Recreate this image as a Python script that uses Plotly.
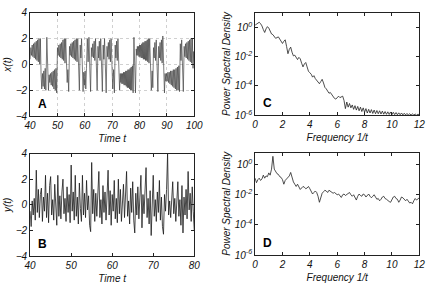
import numpy as np
import plotly.graph_objects as go

# ---------------- Panel A: x(t), turning points ----------------
time_a = [40.0, 40.25, 40.5, 40.75, 41.0, 41.25, 41.5, 41.75, 42.0, 42.25, 42.5, 42.75, 43.0, 43.25, 43.5, 43.75,
          44.0, 44.25, 44.5, 44.75, 45.0, 45.25, 45.5, 45.75, 46.1, 46.45, 46.7, 46.95, 47.2, 47.45, 47.7, 47.95,
          48.2, 48.45, 48.7, 48.95, 49.2, 49.45, 49.7, 50.0, 50.25, 50.5, 50.75, 51.0, 51.25, 51.5, 51.75, 52.0,
          52.25, 52.5, 52.75, 53.0, 53.3, 53.55, 53.8, 54.1, 54.4, 54.65, 54.9, 55.15, 55.4, 55.65, 55.9, 56.15,
          56.4, 56.65, 56.9, 57.15, 57.4, 57.7, 58.0, 58.3, 58.55, 58.8, 59.1, 59.35, 59.6, 59.85, 60.1, 60.35,
          60.6, 60.9, 61.2, 61.5, 61.8, 62.1, 62.4, 62.65, 62.9, 63.15, 63.4, 63.65, 63.9, 64.2, 64.5, 64.8,
          65.05, 65.3, 65.55, 65.8, 66.1, 66.4, 66.7, 66.95, 67.2, 67.5, 67.8, 68.1, 68.35, 68.6, 68.85, 69.1,
          69.35, 69.6, 69.9, 70.2, 70.5, 70.8, 71.1, 71.35, 71.6, 71.85, 72.1, 72.4, 72.7, 72.95, 73.15, 73.35,
          73.55, 73.75, 73.95, 74.15, 74.35, 74.55, 74.75, 74.95, 75.15, 75.35, 75.55, 75.75, 75.95, 76.15, 76.35, 76.55,
          76.75, 76.95, 77.15, 77.4, 77.65, 77.95, 78.25, 78.5, 78.8, 79.0, 79.2, 79.4, 79.6, 79.8, 80.0, 80.2,
          80.4, 80.6, 80.8, 81.0, 81.2, 81.4, 81.6, 81.8, 82.0, 82.2, 82.4, 82.6, 82.8, 83.0, 83.2, 83.45,
          83.7, 84.0, 84.3, 84.6, 84.85, 85.1, 85.35, 85.6, 85.85, 86.1, 86.4, 86.7, 87.0, 87.25, 87.5, 87.75,
          88.0, 88.25, 88.5, 88.8, 89.1, 89.35, 89.6, 89.85, 90.1, 90.35, 90.6, 90.85, 91.1, 91.35, 91.6, 91.85,
          92.1, 92.35, 92.6, 92.85, 93.1, 93.35, 93.6, 93.85, 94.1, 94.35, 94.6, 94.9, 95.15, 95.4, 95.7, 96.0,
          96.3, 96.55, 96.8, 97.05, 97.3, 97.55, 97.8, 98.05, 98.3, 98.55, 98.8, 99.05, 99.3, 99.55, 99.8, 100.0]
x_a = [0.4, 1.3, 0.7, 1.5, 0.6, 1.6, 0.5, 1.7, 0.4, 1.8, 0.3, 1.9, 0.2, 2.0, 0.0, 2.0,
       -0.8, -1.9, -0.7, -1.7, -0.5, -1.9, -0.3, -2.0, 2.1, -0.2, -2.0, -0.8, -1.4, -0.7, -1.6, -0.6,
       -1.7, -0.5, -1.9, -0.4, -2.0, -0.3, -2.2, 1.3, 0.7, 1.5, 0.6, 1.6, 0.5, 1.7, 0.4, 1.9,
       0.3, 2.0, 0.1, 2.0, -0.3, -1.4, -0.4, -2.1, 1.4, 0.7, 1.6, 0.6, 1.7, 0.5, 1.8, 0.4,
       1.9, 0.3, 2.0, 0.2, 2.0, -0.4, -2.0, 1.5, 0.5, 2.0, -0.3, -2.1, -0.6, -1.6, -0.5, -1.9,
       -0.3, 2.0, 0.2, 2.1, -0.2, -2.1, 1.3, 0.6, 1.6, 0.5, 1.8, 0.3, 2.0, -0.4, -2.0, 1.4,
       0.5, 1.8, 0.3, 2.0, -0.3, -2.1, 1.5, 0.4, 2.0, -0.5, -2.2, 1.4, 0.6, 1.7, 0.4, 1.9,
       0.2, 2.0, -0.2, -1.9, -0.4, -2.2, 1.5, 0.5, 1.8, 0.3, 2.0, -0.4, -2.0, -0.7, -1.4, -0.7,
       -1.5, -0.7, -1.5, -0.6, -1.6, -0.6, -1.6, -0.5, -1.7, -0.5, -1.8, -0.4, -1.8, -0.4, -1.9, -0.3,
       -2.0, -0.2, -2.0, -0.1, -2.2, 2.1, -0.3, -2.2, 1.2, 0.7, 1.4, 0.7, 1.4, 0.6, 1.5, 0.6,
       1.5, 0.5, 1.6, 0.5, 1.7, 0.4, 1.7, 0.4, 1.8, 0.3, 1.8, 0.3, 1.9, 0.2, 2.0, 0.1,
       2.0, -0.4, -2.0, -0.5, -1.8, 1.3, 0.5, 1.7, 0.3, 1.9, -0.4, -2.1, 1.4, 0.5, 1.7, 0.3,
       1.9, 0.1, 2.2, -0.3, -2.2, -0.7, -1.3, -0.7, -1.3, -0.6, -1.4, -0.6, -1.5, -0.5, -1.6, -0.5,
       -1.7, -0.4, -1.8, -0.4, -1.9, -0.3, -2.0, -0.2, -2.0, -0.1, -2.1, 1.6, 0.3, 1.9, -0.3, -2.1,
       1.4, 0.6, 1.6, 0.5, 1.7, 0.4, 1.8, 0.3, 1.9, 0.2, 2.0, 0.1, 2.0, -0.3, 1.0, 0.2]

# ---------------- Panel B: y(t), samples every 0.25 from t=40 to t=80 ----------------
y_b = [-0.5, -1.7, 0.3, -0.8, 0.5, -1.2, 2.7, -0.6, 1.2, -1.0, 0.8, 1.3, -1.3, 0.6, -0.5, 2.3,
       -1.0, 0.9, -1.4, 1.5, 2.2, -0.8, 0.4, -1.2, 1.6, -0.4, -1.6, 2.3, -0.9, 0.7, -1.1, 1.0,
       2.0, -0.7, 0.5, -1.3, 1.4, -0.6, 0.8, -1.4, 3.1, -0.5, 1.0, -1.2, 2.3, -0.9, 0.6, -1.5,
       1.7, -0.3, -1.3, 2.3, -0.8, 0.9, -1.0, 1.9, -0.4, 0.7, -1.6, -2.1, 3.3, -0.7, 1.2, -1.3,
       0.9, -0.9, 1.8, 2.6, -1.0, 0.4, -1.5, 1.5, -0.6, 1.0, -1.2, 0.6, 2.7, -0.8, 1.1, -1.6,
       0.8, -0.5, 1.9, -1.1, 0.5, -1.4, 2.0, -0.7, 1.2, -1.3, 0.4, 1.6, -1.0, 0.7, 2.6, -0.9,
       0.3, -1.5, 1.3, -0.6, 1.8, -1.2, -2.2, 0.9, -0.8, 1.4, -1.1, 0.6, 2.3, -1.8, 0.8, -0.7,
       1.3, 2.9, -1.0, 0.5, -1.5, 1.1, -2.4, 0.7, 2.3, -0.9, 0.4, -1.3, 1.0, -0.6, 1.9, -1.2,
       0.6, -1.7, -2.3, 0.8, -0.5, 1.2, 4.0, -0.8, 0.3, -1.0, 1.1, 1.8, -0.7, 0.5, -1.3, 0.9,
       1.8, -0.9, 0.4, -1.6, 1.5, -2.2, 0.6, -0.8, 1.2, -1.1, 2.6, -0.4, 0.9, -1.3, 1.4, -0.5,
       -2.0]
time_b = np.linspace(40, 80, len(y_b))

# ---------------- Panels C and D: PSD (log10 values), every 0.1 from 0 to 12 ----------------
log_psd_c = [0.15, 0.2, 0.3, 0.35, 0.25, 0.1, -0.15, -0.35, -0.1, 0.05, -0.05, -0.3, -0.45, -0.5, -0.6, -0.75,
             -0.7, -0.65, -0.8, -0.95, -1.1, -0.95, -0.85, -1.3, -1.8, -1.5, -1.35, -1.7, -1.95, -1.9, -2.1, -2.2,
             -2.05, -2.15, -2.45, -2.7, -2.5, -2.4, -2.7, -3.0, -3.1, -3.2, -3.4, -3.3, -3.5, -3.6, -3.7, -3.85,
             -3.7, -3.55, -3.8, -4.1, -4.2, -4.4, -4.5, -4.45, -4.6, -4.7, -4.85, -4.9, -4.8, -4.7, -4.8, -4.75,
             -4.7, -5.0, -5.55, -5.1, -5.45, -5.2, -5.5, -5.3, -5.6, -5.35, -5.65, -5.4, -5.7, -5.45, -5.75, -5.5,
             -5.8, -5.55, -5.85, -5.6, -5.85, -5.62, -5.88, -5.65, -5.9, -5.68, -5.9, -5.7, -5.92, -5.72, -5.93, -5.75,
             -5.94, -5.77, -5.95, -5.78, -5.96, -5.8, -5.96, -5.82, -5.97, -5.84, -5.97, -5.85, -5.98, -5.87, -5.98, -5.88,
             -5.99, -5.9, -5.99, -5.91, -5.99, -5.92, -6.0, -5.93, -5.97]
log_psd_d = [-0.9, -1.2, -1.0, -0.9, -1.05, -0.95, -0.7, -0.9, -0.75, -0.8, -0.55, -0.7, -0.3, 0.55, -0.3, -0.5,
             -0.6, -0.65, -0.8, -0.85, -1.0, -1.3, -1.05, -0.95, -0.85, -0.75, -0.52, -0.9, -1.15, -1.3, -1.45, -1.3,
             -1.45, -1.65, -1.55, -1.45, -1.5, -1.6, -1.55, -1.45, -1.6, -1.75, -1.95, -1.85, -1.75, -1.85, -2.1, -2.5,
             -2.1, -1.9, -1.8, -1.7, -1.75, -1.85, -1.7, -1.75, -1.8, -1.9, -1.85, -1.95, -2.0, -1.95, -2.1, -2.18,
             -2.0, -1.95, -2.05, -2.0, -1.9, -1.85, -2.0, -2.1, -2.0, -2.2, -2.35, -2.1, -1.95, -2.05, -2.1, -1.95,
             -2.0, -2.15, -2.05, -1.95, -2.1, -2.2, -2.1, -2.0, -2.15, -2.3, -2.25, -2.4, -2.3, -2.15, -2.1, -2.25,
             -2.3, -2.4, -2.45, -2.5, -2.3, -2.15, -2.1, -2.25, -2.3, -2.5, -2.35, -2.15, -2.2, -2.3, -2.4, -2.3,
             -2.45, -2.55, -2.5, -2.6, -2.4, -2.25, -2.35, -2.3, -2.2]
freq_c = np.linspace(0, 12, len(log_psd_c))
freq_d = np.linspace(0, 12, len(log_psd_d))

time_ticks_a = [40, 50, 60, 70, 80, 90, 100]
time_ticks_b = [40, 50, 60, 70, 80]
value_ticks = [-4, -2, 0, 2, 4]
freq_ticks = [0, 2, 4, 6, 8, 10, 12]
psd_tick_vals = [1e-6, 1e-4, 1e-2, 1e0]
psd_tick_text = ["10<sup>-6</sup>", "10<sup>-4</sup>", "10<sup>-2</sup>", "10<sup>0</sup>"]

FONT = "Liberation Sans, Arial, sans-serif"
fig = go.Figure()

fig.add_trace(go.Scatter(x=time_a, y=x_a, mode="lines", line=dict(color="#444", width=0.7),
                         xaxis="x", yaxis="y", showlegend=False))
fig.add_trace(go.Scatter(x=time_b, y=y_b, mode="lines", line=dict(color="#1a1a1a", width=0.8),
                         xaxis="x2", yaxis="y2", showlegend=False))
fig.add_trace(go.Scatter(x=freq_c, y=np.power(10.0, log_psd_c), mode="lines",
                         line=dict(color="#222", width=0.8), xaxis="x3", yaxis="y3", showlegend=False))
fig.add_trace(go.Scatter(x=freq_d, y=np.power(10.0, log_psd_d), mode="lines",
                         line=dict(color="#222", width=0.8), xaxis="x4", yaxis="y4", showlegend=False))

tickfont = dict(family=FONT, size=10, color="#111", style="italic")
titlefont = dict(family=FONT, size=10, color="#111", style="italic")

def ax(domain, anchor, **kw):
    d = dict(domain=domain, anchor=anchor, showline=True, linecolor="#222", linewidth=1, mirror="ticks",
             ticks="inside", ticklen=3, tickcolor="#222", tickfont=tickfont, zeroline=False,
             showgrid=False, fixedrange=True)
    d.update(kw)
    return d

xa = [0.0573, 0.4472]
xc = [0.5917, 0.9817]
fig.update_layout(
    width=436, height=285, autosize=False,
    margin=dict(l=0, r=0, t=0, b=0),
    paper_bgcolor="white", plot_bgcolor="white",
    xaxis=ax(xa, "y", range=[40, 100], tickvals=time_ticks_a, showgrid=True, gridcolor="#b0b0b0",
             griddash="dot", gridwidth=0.6,
             title=dict(text="Time t", font=titlefont, standoff=4)),
    yaxis=ax([0.5965, 0.9754], "x", range=[-4, 4], tickvals=value_ticks, showgrid=True, gridcolor="#b0b0b0",
             griddash="dot", gridwidth=0.6,
             title=dict(text="x(t)", font=titlefont, standoff=2)),
    xaxis2=ax(xa, "y2", range=[40, 80], tickvals=time_ticks_b,
              title=dict(text="Time t", font=titlefont, standoff=4)),
    yaxis2=ax([0.0842, 0.4596], "x2", range=[-4, 4], tickvals=value_ticks,
              title=dict(text="y(t)", font=titlefont, standoff=2)),
    xaxis3=ax(xc, "y3", range=[0, 12], tickvals=freq_ticks,
              title=dict(text="Frequency 1/t", font=titlefont, standoff=4)),
    yaxis3=ax([0.6, 0.9754], "x3", type="log", range=[-6, 1], tickvals=psd_tick_vals, ticktext=psd_tick_text,
              title=dict(text="Power Spectral Density", font=titlefont, standoff=2)),
    xaxis4=ax(xc, "y4", range=[0, 12], tickvals=freq_ticks,
              title=dict(text="Frequency 1/t", font=titlefont, standoff=4)),
    yaxis4=ax([0.0877, 0.4632], "x4", type="log", range=[-6, 0.8], tickvals=psd_tick_vals, ticktext=psd_tick_text,
              title=dict(text="Power Spectral Density", font=titlefont, standoff=2)),
)

for letter, xr, yr in [("A", "x domain", "y domain"), ("B", "x2 domain", "y2 domain"),
                       ("C", "x3 domain", "y3 domain"), ("D", "x4 domain", "y4 domain")]:
    fig.add_annotation(text="<b>%s</b>" % letter, xref=xr, yref=yr, x=0.035, y=0.03,
                       xanchor="left", yanchor="bottom", showarrow=False,
                       font=dict(family=FONT, size=12, color="#000"))

fig.write_html("out.html", config={"displayModeBar": False, "staticPlot": True},
               post_script="document.body.style.margin='0';document.body.style.overflow='hidden';")
